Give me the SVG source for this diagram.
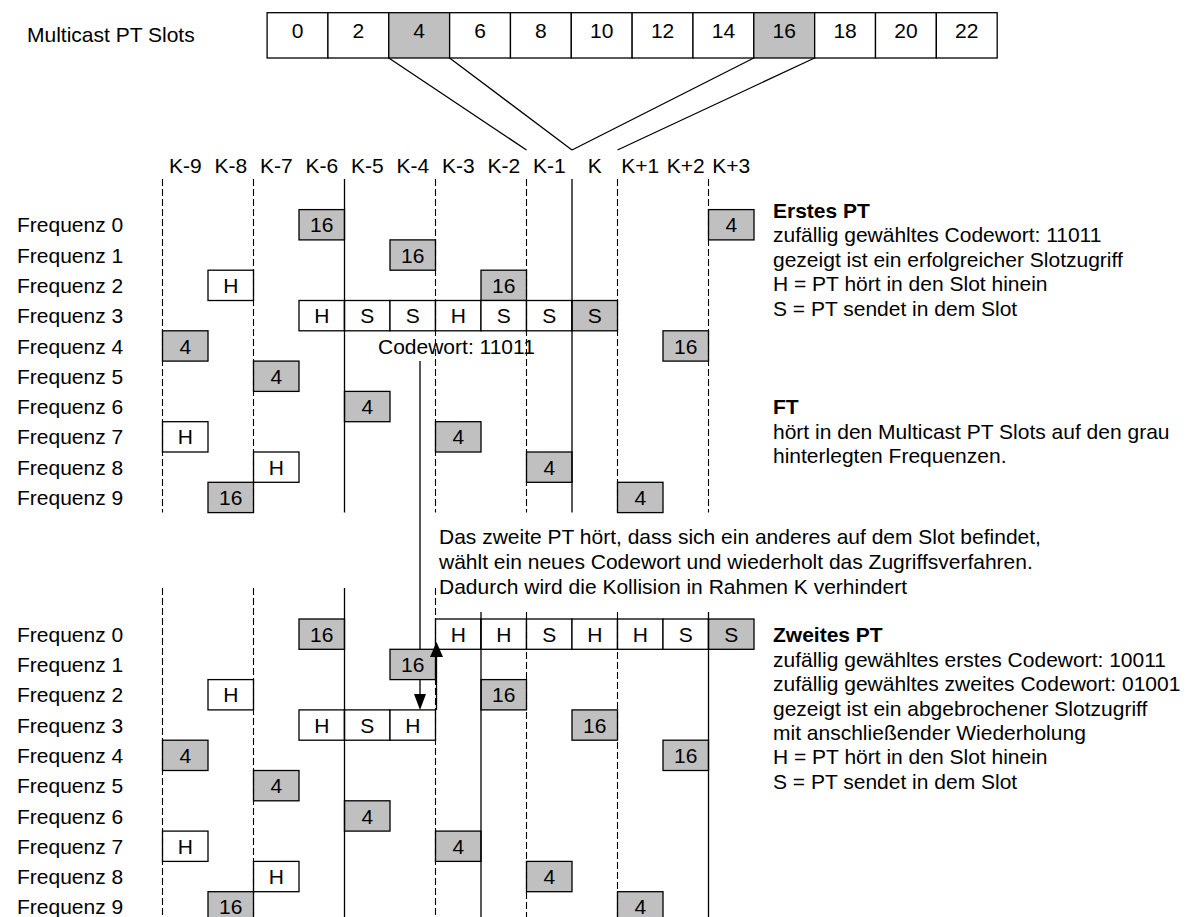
<svg xmlns="http://www.w3.org/2000/svg" width="1191" height="917" viewBox="0 0 1191 917">
<style>
text{font-family:"Liberation Sans",Arial,sans-serif;font-size:21px;fill:#000}
.c{text-anchor:middle}
.b{font-weight:bold}
.w{fill:#fff;stroke:#000;stroke-width:1.3}
.g{fill:#c0c0c0;stroke:#000;stroke-width:1.3}
.d{stroke:#000;stroke-width:1.1;stroke-dasharray:7 3;fill:none}
.s{stroke:#000;stroke-width:1.3;fill:none}
</style>
<rect width="1191" height="917" fill="#fff"/>
<g id="labels">
<text x="27" y="42">Multicast PT Slots</text>
<text class="c" x="185.25" y="172.5">K-9</text>
<text class="c" x="230.75" y="172.5">K-8</text>
<text class="c" x="276.25" y="172.5">K-7</text>
<text class="c" x="321.75" y="172.5">K-6</text>
<text class="c" x="367.25" y="172.5">K-5</text>
<text class="c" x="412.75" y="172.5">K-4</text>
<text class="c" x="458.25" y="172.5">K-3</text>
<text class="c" x="503.75" y="172.5">K-2</text>
<text class="c" x="549.25" y="172.5">K-1</text>
<text class="c" x="594.75" y="172.5">K</text>
<text class="c" x="640.25" y="172.5">K+1</text>
<text class="c" x="685.75" y="172.5">K+2</text>
<text class="c" x="731.25" y="172.5">K+3</text>
<text x="17" y="232.3">Frequenz 0</text>
<text x="17" y="262.6">Frequenz 1</text>
<text x="17" y="292.9">Frequenz 2</text>
<text x="17" y="323.2">Frequenz 3</text>
<text x="17" y="353.5">Frequenz 4</text>
<text x="17" y="383.8">Frequenz 5</text>
<text x="17" y="414.1">Frequenz 6</text>
<text x="17" y="444.4">Frequenz 7</text>
<text x="17" y="474.7">Frequenz 8</text>
<text x="17" y="505">Frequenz 9</text>
<text x="17" y="641.7">Frequenz 0</text>
<text x="17" y="672">Frequenz 1</text>
<text x="17" y="702.3">Frequenz 2</text>
<text x="17" y="732.6">Frequenz 3</text>
<text x="17" y="762.9">Frequenz 4</text>
<text x="17" y="793.2">Frequenz 5</text>
<text x="17" y="823.5">Frequenz 6</text>
<text x="17" y="853.8">Frequenz 7</text>
<text x="17" y="884.1">Frequenz 8</text>
<text x="17" y="914.4">Frequenz 9</text>
<text x="378" y="353.5">Codewort: 11011</text>
<text x="439" y="544">Das zweite PT hört, dass sich ein anderes auf dem Slot befindet,</text>
<text x="439" y="569">wählt ein neues Codewort und wiederholt das Zugriffsverfahren.</text>
<text x="439" y="593.5">Dadurch wird die Kollision in Rahmen K verhindert</text>
<text class="b" x="773" y="217.5">Erstes PT</text>
<text x="773" y="242">zufällig gewähltes Codewort: 11011</text>
<text x="773" y="266.5">gezeigt ist ein erfolgreicher Slotzugriff</text>
<text x="773" y="291">H = PT hört in den Slot hinein</text>
<text x="773" y="315.5">S = PT sendet in dem Slot</text>
<text class="b" x="773" y="414">FT</text>
<text x="773" y="438.5">hört in den Multicast PT Slots auf den grau</text>
<text x="773" y="463">hinterlegten Frequenzen.</text>
<text class="b" x="773" y="641.7">Zweites PT</text>
<text x="773" y="666.5">zufällig gewähltes erstes Codewort: 10011</text>
<text x="773" y="691">zufällig gewähltes zweites Codewort: 01001</text>
<text x="773" y="715.5">gezeigt ist ein abgebrochener Slotzugriff</text>
<text x="773" y="739.5">mit anschließender Wiederholung</text>
<text x="773" y="764">H = PT hört in den Slot hinein</text>
<text x="773" y="788.5">S = PT sendet in dem Slot</text>
</g>
<g id="slots">
<rect class="w" x="267.1" y="12.7" width="60.84" height="45.3"/>
<rect class="w" x="327.94" y="12.7" width="60.84" height="45.3"/>
<rect class="g" x="388.78" y="12.7" width="60.84" height="45.3"/>
<rect class="w" x="449.62" y="12.7" width="60.84" height="45.3"/>
<rect class="w" x="510.46" y="12.7" width="60.84" height="45.3"/>
<rect class="w" x="571.3" y="12.7" width="60.84" height="45.3"/>
<rect class="w" x="632.14" y="12.7" width="60.84" height="45.3"/>
<rect class="w" x="692.98" y="12.7" width="60.84" height="45.3"/>
<rect class="g" x="753.82" y="12.7" width="60.84" height="45.3"/>
<rect class="w" x="814.66" y="12.7" width="60.84" height="45.3"/>
<rect class="w" x="875.5" y="12.7" width="60.84" height="45.3"/>
<rect class="w" x="936.34" y="12.7" width="60.84" height="45.3"/>
<text class="c" x="297.5" y="37.5">0</text>
<text class="c" x="358.4" y="37.5">2</text>
<text class="c" x="419.2" y="37.5">4</text>
<text class="c" x="480" y="37.5">6</text>
<text class="c" x="540.9" y="37.5">8</text>
<text class="c" x="601.7" y="37.5">10</text>
<text class="c" x="662.6" y="37.5">12</text>
<text class="c" x="723.4" y="37.5">14</text>
<text class="c" x="784.3" y="37.5">16</text>
<text class="c" x="845.1" y="37.5">18</text>
<text class="c" x="906" y="37.5">20</text>
<text class="c" x="966.8" y="37.5">22</text>
</g>
<g id="upper-nodes">
<g id="u0a"><rect class="g" x="299" y="209.6" width="45.5" height="30.3"/><text class="c" x="321.75" y="232.3">16</text></g>
<g id="u0b"><rect class="g" x="708.5" y="209.6" width="45.5" height="30.3"/><text class="c" x="731.25" y="232.3">4</text></g>
<g id="u1a"><rect class="g" x="390" y="239.9" width="45.5" height="30.3"/><text class="c" x="412.75" y="262.6">16</text></g>
<g id="u2a"><rect class="w" x="208" y="270.2" width="45.5" height="30.3"/><text class="c" x="230.75" y="292.9">H</text></g>
<g id="u2b"><rect class="g" x="481" y="270.2" width="45.5" height="30.3"/><text class="c" x="503.75" y="292.9">16</text></g>
<g id="u3row">
<rect class="w" x="299" y="300.5" width="45.5" height="30.3"/><text class="c" x="321.75" y="323.2">H</text>
<rect class="w" x="344.5" y="300.5" width="45.5" height="30.3"/><text class="c" x="367.25" y="323.2">S</text>
<rect class="w" x="390" y="300.5" width="45.5" height="30.3"/><text class="c" x="412.75" y="323.2">S</text>
<rect class="w" x="435.5" y="300.5" width="45.5" height="30.3"/><text class="c" x="458.25" y="323.2">H</text>
<rect class="w" x="481" y="300.5" width="45.5" height="30.3"/><text class="c" x="503.75" y="323.2">S</text>
<rect class="w" x="526.5" y="300.5" width="45.5" height="30.3"/><text class="c" x="549.25" y="323.2">S</text>
<rect class="g" x="572" y="300.5" width="45.5" height="30.3"/><text class="c" x="594.75" y="323.2">S</text>
</g>
<g id="u4a"><rect class="g" x="162.5" y="330.8" width="45.5" height="30.3"/><text class="c" x="185.25" y="353.5">4</text></g>
<g id="u4b"><rect class="g" x="663" y="330.8" width="45.5" height="30.3"/><text class="c" x="685.75" y="353.5">16</text></g>
<g id="u5a"><rect class="g" x="253.5" y="361.1" width="45.5" height="30.3"/><text class="c" x="276.25" y="383.8">4</text></g>
<g id="u6a"><rect class="g" x="344.5" y="391.4" width="45.5" height="30.3"/><text class="c" x="367.25" y="414.1">4</text></g>
<g id="u7a"><rect class="w" x="162.5" y="421.7" width="45.5" height="30.3"/><text class="c" x="185.25" y="444.4">H</text></g>
<g id="u7b"><rect class="g" x="435.5" y="421.7" width="45.5" height="30.3"/><text class="c" x="458.25" y="444.4">4</text></g>
<g id="u8a"><rect class="w" x="253.5" y="452" width="45.5" height="30.3"/><text class="c" x="276.25" y="474.7">H</text></g>
<g id="u8b"><rect class="g" x="526.5" y="452" width="45.5" height="30.3"/><text class="c" x="549.25" y="474.7">4</text></g>
<g id="u9a"><rect class="g" x="208" y="482.3" width="45.5" height="30.3"/><text class="c" x="230.75" y="505">16</text></g>
<g id="u9b"><rect class="g" x="617.5" y="482.3" width="45.5" height="30.3"/><text class="c" x="640.25" y="505">4</text></g>
</g>
<g id="lower-nodes">
<g id="l0a"><rect class="g" x="299" y="619" width="45.5" height="30.3"/><text class="c" x="321.75" y="641.7">16</text></g>
<g id="l0row">
<rect class="w" x="435.5" y="619" width="45.5" height="30.3"/><text class="c" x="458.25" y="641.7">H</text>
<rect class="w" x="481" y="619" width="45.5" height="30.3"/><text class="c" x="503.75" y="641.7">H</text>
<rect class="w" x="526.5" y="619" width="45.5" height="30.3"/><text class="c" x="549.25" y="641.7">S</text>
<rect class="w" x="572" y="619" width="45.5" height="30.3"/><text class="c" x="594.75" y="641.7">H</text>
<rect class="w" x="617.5" y="619" width="45.5" height="30.3"/><text class="c" x="640.25" y="641.7">H</text>
<rect class="w" x="663" y="619" width="45.5" height="30.3"/><text class="c" x="685.75" y="641.7">S</text>
<rect class="g" x="708.5" y="619" width="45.5" height="30.3"/><text class="c" x="731.25" y="641.7">S</text>
</g>
<g id="l1a"><rect class="g" x="390" y="649.3" width="45.5" height="30.3"/><text class="c" x="412.75" y="672">16</text></g>
<g id="l2a"><rect class="w" x="208" y="679.6" width="45.5" height="30.3"/><text class="c" x="230.75" y="702.3">H</text></g>
<g id="l2b"><rect class="g" x="481" y="679.6" width="45.5" height="30.3"/><text class="c" x="503.75" y="702.3">16</text></g>
<g id="l3row">
<rect class="w" x="299" y="709.9" width="45.5" height="30.3"/><text class="c" x="321.75" y="732.6">H</text>
<rect class="w" x="344.5" y="709.9" width="45.5" height="30.3"/><text class="c" x="367.25" y="732.6">S</text>
<rect class="w" x="390" y="709.9" width="45.5" height="30.3"/><text class="c" x="412.75" y="732.6">H</text>
</g>
<g id="l3b"><rect class="g" x="572" y="709.9" width="45.5" height="30.3"/><text class="c" x="594.75" y="732.6">16</text></g>
<g id="l4a"><rect class="g" x="162.5" y="740.2" width="45.5" height="30.3"/><text class="c" x="185.25" y="762.9">4</text></g>
<g id="l4b"><rect class="g" x="663" y="740.2" width="45.5" height="30.3"/><text class="c" x="685.75" y="762.9">16</text></g>
<g id="l5a"><rect class="g" x="253.5" y="770.5" width="45.5" height="30.3"/><text class="c" x="276.25" y="793.2">4</text></g>
<g id="l6a"><rect class="g" x="344.5" y="800.8" width="45.5" height="30.3"/><text class="c" x="367.25" y="823.5">4</text></g>
<g id="l7a"><rect class="w" x="162.5" y="831.1" width="45.5" height="30.3"/><text class="c" x="185.25" y="853.8">H</text></g>
<g id="l7b"><rect class="g" x="435.5" y="831.1" width="45.5" height="30.3"/><text class="c" x="458.25" y="853.8">4</text></g>
<g id="l8a"><rect class="w" x="253.5" y="861.4" width="45.5" height="30.3"/><text class="c" x="276.25" y="884.1">H</text></g>
<g id="l8b"><rect class="g" x="526.5" y="861.4" width="45.5" height="30.3"/><text class="c" x="549.25" y="884.1">4</text></g>
<g id="l9a"><rect class="g" x="208" y="891.7" width="45.5" height="30.3"/><text class="c" x="230.75" y="914.4">16</text></g>
<g id="l9b"><rect class="g" x="617.5" y="891.7" width="45.5" height="30.3"/><text class="c" x="640.25" y="914.4">4</text></g>
</g>
<g id="connectors">
<path class="s" d="M388.8 58L526.5 150M449.6 58L572 150M753.8 58L572 150M814.6 58L617.5 150"/>
<path class="d" d="M162.5 179V512.6M253.5 179V512.6M435.5 179V512.6M526.5 179V512.6M617.5 179V512.6M708.5 179V512.6"/>
<path class="s" d="M344.5 179V512.6M572 179V512.6"/>
<path class="d" d="M162.5 588V917M253.5 588V917M435.5 588V917M526.5 612V917M617.5 612V917"/>
<path class="s" d="M344.5 588V917M481 612V917M708.5 612V917"/>
<path class="s" d="M420 361V649.3M420 679.6V695"/>
<polygon points="420,709.9 414,694 426,694" fill="#000"/>
<path class="s" d="M436.5 709.9V656"/>
<polygon points="436.5,642 430,657 443,657" fill="#000"/>
</g>
</svg>
